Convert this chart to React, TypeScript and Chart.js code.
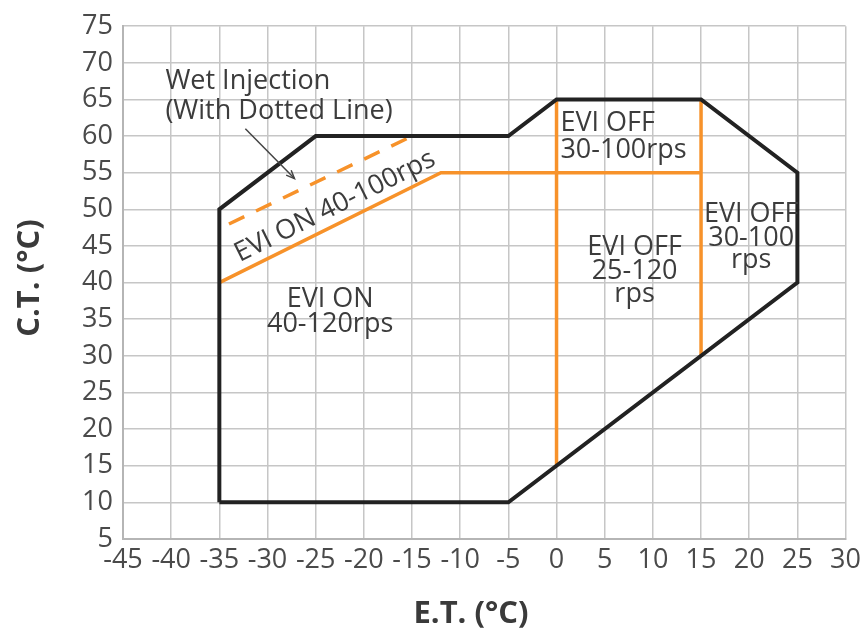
import React, { useEffect, useRef } from "react";
import { Chart, registerables } from "chart.js";

Chart.register(...registerables);

// Axis ranges / ticks
const X_MIN = -45;
const X_MAX = 30;
const X_STEP = 5;
const Y_MIN = 5;
const Y_MAX = 75;
const Y_STEP = 5;

// Operating envelope (black outline)
const envelopeX = [-35, -35, -25, -5, 0, 15, 25, 25, -5, -35];
const envelopeY = [10, 50, 60, 60, 65, 65, 55, 40, 10, 10];

// Orange boundary: EVI ON 40-100rps lower edge, then EVI OFF 30-100rps lower edge
const orangeDiagX = [-35, -12, 15];
const orangeDiagY = [40, 55, 55];

// Orange vertical boundaries
const orangeV0X = [0, 0];
const orangeV0Y = [65, 15];
const orangeV15X = [15, 15];
const orangeV15Y = [65, 30];

// Wet injection dashed line
const wetX = [-34, -15];
const wetY = [48, 60];

// Arrow pointing to dashed line
const arrowX = [-32.3, -27.2];
const arrowY = [61, 54.2];

// Region labels: lines, anchor x, anchor y per line, alignment
const labelLines = [
  ["Wet Injection", "(With Dotted Line)"],
  ["EVI ON", "40-120rps"],
  ["EVI OFF", "30-100rps"],
  ["EVI OFF", "25-120", "rps"],
  ["EVI OFF", "30-100", "rps"],
];
const labelX = [-40.6, -23.5, 0.4, 8.1, 20.2];
const labelY = [
  [67.5, 63.4],
  [37.7, 34.3],
  [61.8, 58.0],
  [44.8, 41.5, 38.4],
  [49.3, 46.0, 43.0],
];
const labelAlign = ["left", "center", "left", "center", "center"];

const rotatedLabel = "EVI ON 40-100rps";
const rotatedLabelX = -23.0;
const rotatedLabelY = 50.4;

const xTitle = "E.T. (°C)";
const yTitle = "C.T. (°C)";

const toPts = (xs: number[], ys: number[]) => xs.map((x, i) => ({ x, y: ys[i] }));

const BLACK = "#222222";
const ORANGE = "#F7922A";
const TEXT = "#3c3c3c";
const FONT = "'Open Sans', 'Noto Sans', sans-serif";

const annotPlugin = {
  id: "annot",
  afterDatasetsDraw(chart: any) {
    const ctx = chart.ctx;
    const xs = chart.scales.x;
    const ys = chart.scales.y;
    ctx.save();
    // arrow
    const ax0 = xs.getPixelForValue(arrowX[0]);
    const ay0 = ys.getPixelForValue(arrowY[0]);
    const ax1 = xs.getPixelForValue(arrowX[1]);
    const ay1 = ys.getPixelForValue(arrowY[1]);
    ctx.strokeStyle = "#444";
    ctx.lineWidth = 1.5;
    ctx.beginPath();
    ctx.moveTo(ax0, ay0);
    ctx.lineTo(ax1, ay1);
    ctx.stroke();
    const ang = Math.atan2(ay1 - ay0, ax1 - ax0);
    const hl = 9;
    ctx.beginPath();
    ctx.moveTo(ax1 - hl * Math.cos(ang - 0.4), ay1 - hl * Math.sin(ang - 0.4));
    ctx.lineTo(ax1, ay1);
    ctx.lineTo(ax1 - hl * Math.cos(ang + 0.4), ay1 - hl * Math.sin(ang + 0.4));
    ctx.stroke();

    // labels
    ctx.fillStyle = TEXT;
    ctx.font = `27px ${FONT}`;
    ctx.textBaseline = "middle";
    labelLines.forEach((lines, i) => {
      ctx.textAlign = labelAlign[i];
      lines.forEach((t, j) => {
        ctx.fillText(t, xs.getPixelForValue(labelX[i]), ys.getPixelForValue(labelY[i][j]));
      });
    });

    // rotated label along orange diagonal
    const dx = xs.getPixelForValue(orangeDiagX[1]) - xs.getPixelForValue(orangeDiagX[0]);
    const dy = ys.getPixelForValue(orangeDiagY[1]) - ys.getPixelForValue(orangeDiagY[0]);
    const rot = Math.atan2(dy, dx);
    ctx.save();
    ctx.translate(xs.getPixelForValue(rotatedLabelX), ys.getPixelForValue(rotatedLabelY));
    ctx.rotate(rot);
    ctx.textAlign = "center";
    ctx.fillText(rotatedLabel, 0, 0);
    ctx.restore();

    // axis titles
    ctx.font = `bold 31px ${FONT}`;
    ctx.fillStyle = "#3a3a3a";
    ctx.textAlign = "center";
    ctx.fillText(xTitle, 471, 614);
    ctx.save();
    ctx.translate(30, 278);
    ctx.rotate(-Math.PI / 2);
    ctx.fillText(yTitle, 0, 0);
    ctx.restore();
    ctx.restore();
  },
};

export default function App() {
  const ref = useRef<HTMLCanvasElement | null>(null);
  useEffect(() => {
    if (!ref.current) return;
    const line = (data: any, color: string, width: number, extra: any = {}) => ({
      data,
      showLine: true,
      borderColor: color,
      borderWidth: width,
      pointRadius: 0,
      fill: false,
      tension: 0,
      borderJoinStyle: "miter",
      ...extra,
    });
    const chart = new Chart(ref.current, {
      type: "scatter",
      data: {
        datasets: [
          line(toPts(envelopeX, envelopeY), BLACK, 4),
          line(toPts(orangeDiagX, orangeDiagY), ORANGE, 3.5),
          line(toPts(orangeV0X, orangeV0Y), ORANGE, 3.5),
          line(toPts(orangeV15X, orangeV15Y), ORANGE, 3.5),
          line(toPts(wetX, wetY), ORANGE, 3.5, { borderDash: [17, 13] }),
        ],
      },
      options: {
        animation: false,
        responsive: false,
        maintainAspectRatio: false,
        layout: { padding: { top: 23, right: 20, left: 0, bottom: 0 } },
        plugins: { legend: { display: false }, tooltip: { enabled: false }, title: { display: false } },
        scales: {
          x: {
            type: "linear",
            min: X_MIN,
            max: X_MAX,
            ticks: {
              stepSize: X_STEP,
              color: "#4a4a4a",
              font: { family: FONT, size: 27 },
              padding: 5,
              maxRotation: 0,
              autoSkip: false,
            },
            grid: { color: "#c6c6c6", lineWidth: 1.5, drawTicks: false },
            border: { display: true, color: "#b5b5b5", width: 2 },
            afterFit: (s: any) => {
              s.height = 99;
            },
          },
          y: {
            type: "linear",
            min: Y_MIN,
            max: Y_MAX,
            ticks: {
              stepSize: Y_STEP,
              color: "#4a4a4a",
              font: { family: FONT, size: 27 },
              padding: 10,
              autoSkip: false,
            },
            grid: { color: "#c6c6c6", lineWidth: 1.5, drawTicks: false },
            border: { display: true, color: "#b5b5b5", width: 2 },
            afterFit: (s: any) => {
              s.width = 123;
            },
          },
        },
      },
      plugins: [annotPlugin],
    } as any);
    return () => chart.destroy();
  }, []);
  return (
    <div style={{ position: "fixed", left: 0, top: 0, width: 866, height: 638, background: "#fff" }}>
      <canvas ref={ref} width={866} height={638} style={{ width: 866, height: 638 }} />
    </div>
  );
}
